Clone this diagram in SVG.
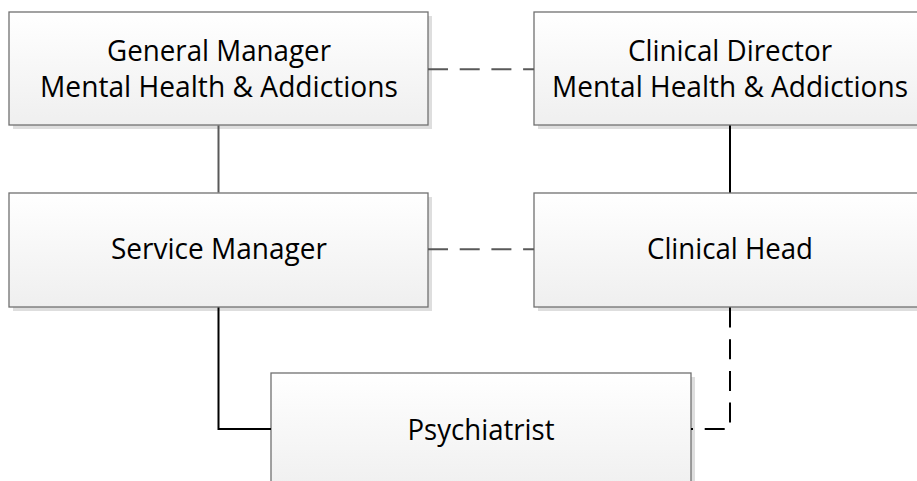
<svg xmlns="http://www.w3.org/2000/svg" width="917" height="481" viewBox="0 0 917 481">
<defs>
<linearGradient id="g" x1="0" y1="0" x2="0" y2="1">
<stop offset="0" stop-color="#ffffff"/>
<stop offset="1" stop-color="#efefef"/>
</linearGradient>
<style>
.sh{fill:#dedede;}
.box{fill:url(#g);stroke:#707070;stroke-width:1.3;}
.t{font-family:"Open Sans","Noto Sans","Liberation Sans",sans-serif;font-size:29px;fill:#000;text-anchor:middle;}
.c{fill:none;stroke-width:2;}
.gray{stroke:#595959;}
.blk{stroke:#000;}
.dash{stroke-dasharray:20 11.7;}
</style>
</defs>
<rect width="917" height="481" fill="#fff"/>
<g id="gm">
<rect class="sh" x="13" y="16" width="419" height="113"/>
<rect class="box" x="9" y="12" width="419" height="113"/>
<text class="t" x="219" y="61" textLength="224" lengthAdjust="spacingAndGlyphs">General Manager</text>
<text class="t" x="219" y="97" textLength="358" lengthAdjust="spacingAndGlyphs">Mental Health &amp; Addictions</text>
</g>
<g id="cd">
<rect class="sh" x="538" y="16" width="400" height="113"/>
<rect class="box" x="534" y="12" width="400" height="113"/>
<text class="t" x="730" y="61" textLength="204" lengthAdjust="spacingAndGlyphs">Clinical Director</text>
<text class="t" x="730" y="97" textLength="356" lengthAdjust="spacingAndGlyphs">Mental Health &amp; Addictions</text>
</g>
<g id="sm">
<rect class="sh" x="13" y="197" width="419" height="114"/>
<rect class="box" x="9" y="193" width="419" height="114"/>
<text class="t" x="219" y="259" textLength="216" lengthAdjust="spacingAndGlyphs">Service Manager</text>
</g>
<g id="ch">
<rect class="sh" x="538" y="197" width="400" height="114"/>
<rect class="box" x="534" y="193" width="400" height="114"/>
<text class="t" x="730" y="259" textLength="166" lengthAdjust="spacingAndGlyphs">Clinical Head</text>
</g>
<g id="psych">
<rect class="sh" x="275" y="377" width="420" height="120"/>
<rect class="box" x="271" y="373" width="420" height="120"/>
<text class="t" x="481" y="440" textLength="147" lengthAdjust="spacingAndGlyphs">Psychiatrist</text>
</g>
<g id="connectors">
<path class="c gray" d="M218.5,125.5 V192.5"/>
<path class="c blk" d="M730,125.5 V192.5"/>
<path class="c gray dash" d="M428,69.3 H534"/>
<path class="c gray dash" d="M428,249.3 H534"/>
<path class="c blk" d="M218.5,307.5 V429 H271"/>
<path class="c blk dash" d="M730,307.5 V429 H691"/>
</g>
</svg>
